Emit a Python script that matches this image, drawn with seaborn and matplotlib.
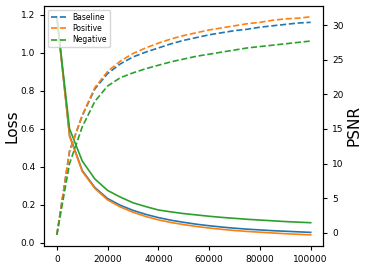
import numpy as np
import pandas as pd
import matplotlib
matplotlib.use("Agg")
import matplotlib.pyplot as plt
import seaborn as sns

# training steps
steps = list(range(0, 100001, 5000))
methods = ["Baseline", "Positive", "Negative"]

# loss curves (left axis)
loss_baseline = [1.19, 0.565, 0.38, 0.29, 0.232, 0.197, 0.17, 0.149, 0.132, 0.118, 0.107,
                 0.097, 0.089, 0.082, 0.076, 0.071, 0.067, 0.063, 0.06, 0.057, 0.054]
loss_positive = [1.19, 0.56, 0.375, 0.285, 0.225, 0.188, 0.16, 0.138, 0.12, 0.106, 0.095,
                 0.085, 0.077, 0.07, 0.064, 0.059, 0.055, 0.051, 0.047, 0.044, 0.041]
loss_negative = [1.19, 0.6, 0.43, 0.335, 0.275, 0.24, 0.21, 0.19, 0.172, 0.162, 0.153,
                 0.146, 0.139, 0.133, 0.128, 0.123, 0.119, 0.115, 0.111, 0.108, 0.105]

# PSNR curves (right axis)
psnr_baseline = [-0.3, 11.8, 16.9, 20.8, 23.0, 24.4, 25.4, 26.1, 26.7, 27.3, 27.8,
                 28.2, 28.6, 28.9, 29.2, 29.4, 29.7, 29.9, 30.1, 30.3, 30.4]
psnr_positive = [-0.3, 11.8, 17.0, 21.0, 23.3, 24.8, 25.9, 26.7, 27.4, 28.0, 28.5,
                 28.9, 29.3, 29.6, 29.9, 30.2, 30.4, 30.7, 30.9, 31.0, 31.2]
psnr_negative = [-0.3, 10.0, 15.3, 19.0, 21.2, 22.4, 23.1, 23.7, 24.2, 24.7, 25.1,
                 25.5, 25.8, 26.1, 26.4, 26.7, 26.9, 27.1, 27.3, 27.5, 27.7]

loss_df = pd.DataFrame({
    "step": steps * 3,
    "loss": loss_baseline + loss_positive + loss_negative,
    "method": np.repeat(methods, len(steps)),
})
psnr_df = pd.DataFrame({
    "step": steps * 3,
    "psnr": psnr_baseline + psnr_positive + psnr_negative,
    "method": np.repeat(methods, len(steps)),
})

palette = sns.color_palette("tab10", 3)

fig = plt.figure(figsize=(3.65, 2.68), dpi=100)
ax = fig.add_axes([0.121, 0.083, 0.765, 0.895])
ax2 = ax.twinx()

sns.lineplot(data=loss_df, x="step", y="loss", hue="method", palette=palette,
             ax=ax, legend=False, linewidth=1.2)
sns.lineplot(data=psnr_df, x="step", y="psnr", hue="method", palette=palette,
             ax=ax2, legend=False, linewidth=1.2, linestyle="--")

ax.set_xlabel("")
ax.set_ylabel("Loss", fontsize=11)
ax2.set_ylabel("PSNR", fontsize=11)
ax.set_xticks([0, 20000, 40000, 60000, 80000, 100000])
ax.set_yticks([0.0, 0.2, 0.4, 0.6, 0.8, 1.0, 1.2])
ax2.set_yticks([0, 5, 10, 15, 20, 25, 30])
ax.tick_params(labelsize=6.5, length=3, width=0.8)
ax2.tick_params(labelsize=6.5, length=3, width=0.8)
ax.yaxis.labelpad = 1
ax2.yaxis.labelpad = 2

ax2.legend(handles=ax2.lines, labels=methods, loc="upper left", fontsize=5.5,
           handlelength=2.0, borderpad=0.4, labelspacing=0.3)

fig.savefig("out.png", dpi=100)
